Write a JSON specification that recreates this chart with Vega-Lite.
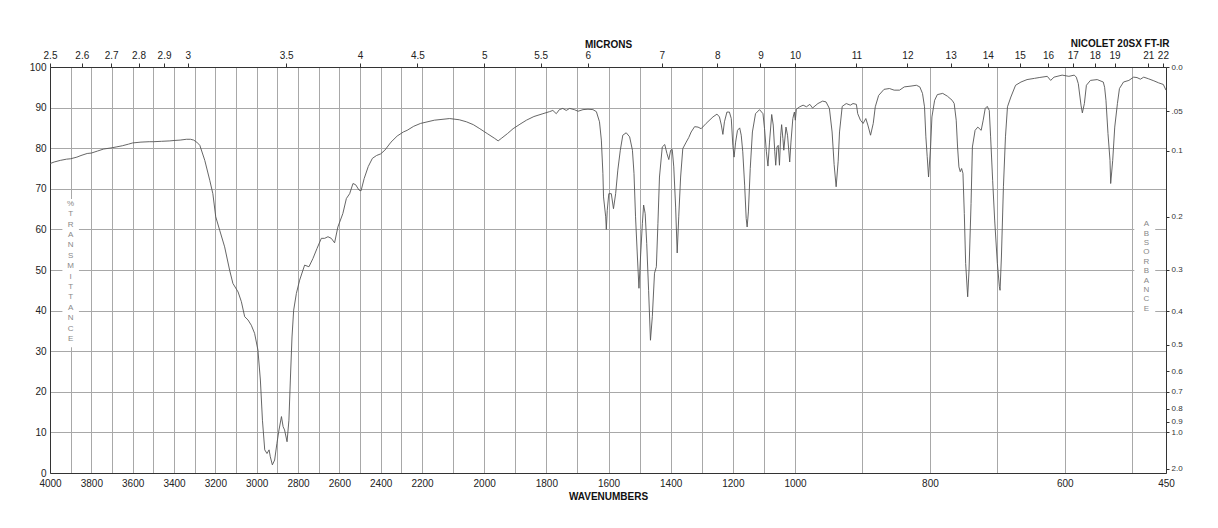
{
  "$schema": "https://vega.github.io/schema/vega-lite/v6.json",
  "width": 1116,
  "height": 406,
  "autosize": {"type": "none"},
  "padding": {"left": 50, "top": 67, "right": 52, "bottom": 55},
  "background": "white",
  "config": {
    "view": {"stroke": null},
    "font": "Liberation Sans",
    "axis": {"labelFont": "Liberation Sans", "labelFontSize": 10, "labelColor": "#222", "domainColor": "#333", "tickColor": "#333", "gridColor": "#a8a8a8", "gridWidth": 1, "titleFont": "Liberation Sans", "titleColor": "#111"}
  },
  "data": {"values": [
    {"wn": 4000, "T": 76.2}, {"wn": 3980, "T": 76.6}, {"wn": 3950, "T": 77.0}, {"wn": 3920, "T": 77.3}, {"wn": 3900, "T": 77.4},
    {"wn": 3870, "T": 77.8}, {"wn": 3850, "T": 78.2}, {"wn": 3820, "T": 78.7}, {"wn": 3800, "T": 78.8}, {"wn": 3770, "T": 79.3},
    {"wn": 3740, "T": 79.8}, {"wn": 3700, "T": 80.1}, {"wn": 3680, "T": 80.3}, {"wn": 3650, "T": 80.6}, {"wn": 3620, "T": 81.0},
    {"wn": 3600, "T": 81.3}, {"wn": 3560, "T": 81.5}, {"wn": 3520, "T": 81.6}, {"wn": 3500, "T": 81.6}, {"wn": 3460, "T": 81.7},
    {"wn": 3420, "T": 81.8}, {"wn": 3400, "T": 81.9}, {"wn": 3370, "T": 82.0}, {"wn": 3340, "T": 82.2}, {"wn": 3320, "T": 82.2},
    {"wn": 3305, "T": 82.0}, {"wn": 3290, "T": 81.5}, {"wn": 3275, "T": 80.7}, {"wn": 3251, "T": 77.0}, {"wn": 3227, "T": 72.1},
    {"wn": 3212, "T": 68.8}, {"wn": 3198, "T": 63.1}, {"wn": 3179, "T": 59.8}, {"wn": 3155, "T": 55.7}, {"wn": 3131, "T": 50.0},
    {"wn": 3115, "T": 46.7}, {"wn": 3090, "T": 44.6}, {"wn": 3074, "T": 42.2}, {"wn": 3058, "T": 38.5}, {"wn": 3042, "T": 37.7},
    {"wn": 3026, "T": 36.4}, {"wn": 3010, "T": 34.4}, {"wn": 2994, "T": 30.3}, {"wn": 2982, "T": 22.9}, {"wn": 2972, "T": 13.0},
    {"wn": 2961, "T": 5.7}, {"wn": 2950, "T": 4.8}, {"wn": 2940, "T": 5.7}, {"wn": 2934, "T": 4.0}, {"wn": 2924, "T": 2.0},
    {"wn": 2913, "T": 3.2}, {"wn": 2902, "T": 7.3}, {"wn": 2892, "T": 10.6}, {"wn": 2880, "T": 13.9}, {"wn": 2872, "T": 11.4},
    {"wn": 2865, "T": 10.6}, {"wn": 2853, "T": 7.7}, {"wn": 2844, "T": 13.0}, {"wn": 2837, "T": 22.9}, {"wn": 2829, "T": 33.5},
    {"wn": 2821, "T": 40.1}, {"wn": 2808, "T": 44.2}, {"wn": 2792, "T": 47.5}, {"wn": 2768, "T": 51.2}, {"wn": 2747, "T": 50.8},
    {"wn": 2728, "T": 52.8}, {"wn": 2708, "T": 55.3}, {"wn": 2687, "T": 57.8}, {"wn": 2671, "T": 57.8}, {"wn": 2655, "T": 58.2},
    {"wn": 2639, "T": 57.8}, {"wn": 2623, "T": 56.7}, {"wn": 2607, "T": 60.6}, {"wn": 2583, "T": 63.9}, {"wn": 2566, "T": 67.6},
    {"wn": 2550, "T": 68.8}, {"wn": 2534, "T": 71.3}, {"wn": 2521, "T": 71.0}, {"wn": 2505, "T": 69.7}, {"wn": 2495, "T": 69.5},
    {"wn": 2480, "T": 72.5}, {"wn": 2460, "T": 75.5}, {"wn": 2440, "T": 77.5}, {"wn": 2420, "T": 78.2}, {"wn": 2400, "T": 78.6},
    {"wn": 2380, "T": 79.5}, {"wn": 2350, "T": 81.5}, {"wn": 2320, "T": 83.0}, {"wn": 2290, "T": 84.0}, {"wn": 2272, "T": 84.4},
    {"wn": 2240, "T": 85.4}, {"wn": 2207, "T": 86.1}, {"wn": 2160, "T": 86.9}, {"wn": 2111, "T": 87.3}, {"wn": 2080, "T": 87.0},
    {"wn": 2057, "T": 86.5}, {"wn": 2035, "T": 85.8}, {"wn": 2014, "T": 84.8}, {"wn": 1990, "T": 83.6}, {"wn": 1966, "T": 82.4},
    {"wn": 1955, "T": 81.8}, {"wn": 1945, "T": 82.4}, {"wn": 1925, "T": 83.6}, {"wn": 1907, "T": 84.8}, {"wn": 1885, "T": 85.9},
    {"wn": 1864, "T": 86.9}, {"wn": 1840, "T": 87.8}, {"wn": 1811, "T": 88.5}, {"wn": 1790, "T": 89.0}, {"wn": 1779, "T": 89.3},
    {"wn": 1768, "T": 88.5}, {"wn": 1758, "T": 89.5}, {"wn": 1747, "T": 89.8}, {"wn": 1736, "T": 89.3}, {"wn": 1725, "T": 89.8},
    {"wn": 1710, "T": 89.5}, {"wn": 1698, "T": 89.1}, {"wn": 1682, "T": 89.5}, {"wn": 1666, "T": 89.6}, {"wn": 1650, "T": 89.5},
    {"wn": 1639, "T": 89.0}, {"wn": 1629, "T": 86.5}, {"wn": 1623, "T": 82.0}, {"wn": 1618, "T": 73.8}, {"wn": 1616, "T": 68.0},
    {"wn": 1609, "T": 63.1}, {"wn": 1607, "T": 60.0}, {"wn": 1604, "T": 64.7}, {"wn": 1599, "T": 68.8}, {"wn": 1591, "T": 68.8},
    {"wn": 1584, "T": 65.1}, {"wn": 1577, "T": 68.8}, {"wn": 1570, "T": 74.6}, {"wn": 1562, "T": 79.5}, {"wn": 1554, "T": 83.2},
    {"wn": 1543, "T": 83.8}, {"wn": 1532, "T": 82.8}, {"wn": 1523, "T": 79.5}, {"wn": 1518, "T": 73.8}, {"wn": 1513, "T": 63.1},
    {"wn": 1507, "T": 53.2}, {"wn": 1502, "T": 45.5}, {"wn": 1497, "T": 53.2}, {"wn": 1491, "T": 61.5}, {"wn": 1487, "T": 66.0},
    {"wn": 1482, "T": 63.9}, {"wn": 1477, "T": 56.5}, {"wn": 1471, "T": 45.0}, {"wn": 1465, "T": 32.7}, {"wn": 1459, "T": 38.5},
    {"wn": 1452, "T": 49.2}, {"wn": 1446, "T": 50.8}, {"wn": 1441, "T": 61.5}, {"wn": 1436, "T": 72.9}, {"wn": 1427, "T": 80.3},
    {"wn": 1419, "T": 80.9}, {"wn": 1412, "T": 78.7}, {"wn": 1406, "T": 77.2}, {"wn": 1400, "T": 79.5}, {"wn": 1395, "T": 79.7},
    {"wn": 1390, "T": 75.4}, {"wn": 1384, "T": 65.5}, {"wn": 1379, "T": 54.2}, {"wn": 1374, "T": 63.1}, {"wn": 1368, "T": 72.9},
    {"wn": 1361, "T": 79.9}, {"wn": 1350, "T": 81.5}, {"wn": 1342, "T": 82.6}, {"wn": 1334, "T": 84.0}, {"wn": 1323, "T": 85.3},
    {"wn": 1312, "T": 85.2}, {"wn": 1302, "T": 84.8}, {"wn": 1286, "T": 86.1}, {"wn": 1264, "T": 87.7}, {"wn": 1251, "T": 88.4},
    {"wn": 1243, "T": 87.7}, {"wn": 1237, "T": 85.7}, {"wn": 1232, "T": 83.4}, {"wn": 1227, "T": 86.5}, {"wn": 1219, "T": 88.9},
    {"wn": 1211, "T": 88.9}, {"wn": 1205, "T": 87.3}, {"wn": 1200, "T": 80.7}, {"wn": 1196, "T": 77.8}, {"wn": 1191, "T": 81.5},
    {"wn": 1185, "T": 84.4}, {"wn": 1178, "T": 85.0}, {"wn": 1173, "T": 83.2}, {"wn": 1168, "T": 79.1}, {"wn": 1162, "T": 70.9},
    {"wn": 1157, "T": 62.7}, {"wn": 1154, "T": 60.6}, {"wn": 1150, "T": 64.3}, {"wn": 1144, "T": 75.0}, {"wn": 1137, "T": 84.0},
    {"wn": 1127, "T": 88.5}, {"wn": 1114, "T": 89.5}, {"wn": 1103, "T": 88.5}, {"wn": 1098, "T": 84.8}, {"wn": 1092, "T": 79.1},
    {"wn": 1087, "T": 75.6}, {"wn": 1082, "T": 81.5}, {"wn": 1075, "T": 88.3}, {"wn": 1070, "T": 85.7}, {"wn": 1065, "T": 79.1},
    {"wn": 1062, "T": 75.8}, {"wn": 1058, "T": 80.3}, {"wn": 1054, "T": 80.7}, {"wn": 1050, "T": 75.8}, {"wn": 1046, "T": 83.2},
    {"wn": 1043, "T": 85.8}, {"wn": 1039, "T": 82.4}, {"wn": 1036, "T": 79.5}, {"wn": 1029, "T": 85.2}, {"wn": 1024, "T": 83.2},
    {"wn": 1017, "T": 76.6}, {"wn": 1013, "T": 81.5}, {"wn": 1007, "T": 87.3}, {"wn": 1002, "T": 88.9}, {"wn": 999.5, "T": 86.9},
    {"wn": 998, "T": 89.6}, {"wn": 993, "T": 90.2}, {"wn": 988, "T": 90.6}, {"wn": 983, "T": 90.2}, {"wn": 978, "T": 90.8},
    {"wn": 974, "T": 89.9}, {"wn": 966, "T": 91.0}, {"wn": 959, "T": 91.6}, {"wn": 954, "T": 91.4}, {"wn": 949, "T": 89.8},
    {"wn": 945, "T": 84.0}, {"wn": 942, "T": 76.0}, {"wn": 939, "T": 70.5}, {"wn": 936, "T": 76.8}, {"wn": 934, "T": 84.0},
    {"wn": 930, "T": 90.3}, {"wn": 924, "T": 91.0}, {"wn": 918, "T": 90.6}, {"wn": 914, "T": 91.0}, {"wn": 909, "T": 90.8},
    {"wn": 907, "T": 88.5}, {"wn": 903, "T": 86.9}, {"wn": 899, "T": 86.1}, {"wn": 895, "T": 87.3}, {"wn": 892, "T": 85.7},
    {"wn": 888, "T": 83.2}, {"wn": 884, "T": 86.1}, {"wn": 881, "T": 90.2}, {"wn": 876, "T": 93.0}, {"wn": 868, "T": 94.5},
    {"wn": 860, "T": 94.7}, {"wn": 853, "T": 94.3}, {"wn": 845, "T": 94.3}, {"wn": 838, "T": 95.1}, {"wn": 828, "T": 95.3},
    {"wn": 820, "T": 95.5}, {"wn": 815, "T": 95.1}, {"wn": 811, "T": 93.5}, {"wn": 808, "T": 90.2}, {"wn": 806, "T": 82.8},
    {"wn": 804, "T": 77.9}, {"wn": 802, "T": 72.9}, {"wn": 799, "T": 80.3}, {"wn": 797, "T": 87.7}, {"wn": 793, "T": 91.8},
    {"wn": 789, "T": 93.2}, {"wn": 781, "T": 93.5}, {"wn": 774, "T": 92.8}, {"wn": 767, "T": 91.8}, {"wn": 764, "T": 91.0},
    {"wn": 761, "T": 86.9}, {"wn": 759, "T": 80.3}, {"wn": 757, "T": 75.4}, {"wn": 755, "T": 74.2}, {"wn": 753, "T": 75.0},
    {"wn": 751, "T": 73.8}, {"wn": 749, "T": 63.9}, {"wn": 747, "T": 51.6}, {"wn": 744, "T": 43.4}, {"wn": 742, "T": 50.0},
    {"wn": 739, "T": 66.4}, {"wn": 737, "T": 80.3}, {"wn": 733, "T": 84.4}, {"wn": 729, "T": 85.2}, {"wn": 724, "T": 84.4},
    {"wn": 721, "T": 86.9}, {"wn": 718, "T": 89.8}, {"wn": 715, "T": 90.3}, {"wn": 712, "T": 89.3}, {"wn": 710, "T": 82.8},
    {"wn": 707, "T": 72.1}, {"wn": 704, "T": 62.3}, {"wn": 700, "T": 51.6}, {"wn": 697, "T": 45.9}, {"wn": 696, "T": 45.0},
    {"wn": 694, "T": 53.2}, {"wn": 691, "T": 70.5}, {"wn": 688, "T": 82.8}, {"wn": 685, "T": 90.2}, {"wn": 680, "T": 92.6},
    {"wn": 673, "T": 95.5}, {"wn": 665, "T": 96.3}, {"wn": 656, "T": 96.9}, {"wn": 645, "T": 97.2}, {"wn": 638, "T": 97.4},
    {"wn": 626, "T": 97.7}, {"wn": 621, "T": 96.7}, {"wn": 616, "T": 97.5}, {"wn": 604, "T": 98.0}, {"wn": 594, "T": 97.7},
    {"wn": 586, "T": 98.0}, {"wn": 583, "T": 97.5}, {"wn": 580, "T": 95.9}, {"wn": 576, "T": 90.6}, {"wn": 574, "T": 88.7},
    {"wn": 571, "T": 91.0}, {"wn": 568, "T": 95.5}, {"wn": 562, "T": 96.7}, {"wn": 552, "T": 96.9}, {"wn": 543, "T": 96.3},
    {"wn": 541, "T": 95.0}, {"wn": 539, "T": 91.8}, {"wn": 536, "T": 83.6}, {"wn": 533, "T": 77.0}, {"wn": 532, "T": 71.3},
    {"wn": 529, "T": 77.0}, {"wn": 526, "T": 85.2}, {"wn": 522, "T": 91.0}, {"wn": 519, "T": 94.7}, {"wn": 513, "T": 96.3},
    {"wn": 505, "T": 96.7}, {"wn": 498, "T": 97.5}, {"wn": 493, "T": 97.4}, {"wn": 488, "T": 97.0}, {"wn": 483, "T": 97.5},
    {"wn": 476, "T": 97.1}, {"wn": 468, "T": 96.6}, {"wn": 461, "T": 96.1}, {"wn": 454, "T": 95.7}, {"wn": 450, "T": 94.3}
  ]},
  "layer": [
    {
      "mark": {"type": "line", "color": "#555555", "strokeWidth": 0.9},
      "encoding": {
        "x": {
          "field": "wn", "type": "quantitative",
          "scale": {"domain": [4000, 2200, 1000, 450], "range": [0, 372, 745, 1116], "nice": false, "zero": false},
          "axis": {
            "orient": "bottom",
            "values": [4000, 3900, 3800, 3700, 3600, 3500, 3400, 3300, 3200, 3100, 3000, 2900, 2800, 2700, 2600, 2500, 2400, 2300, 2200, 2100, 2000, 1900, 1800, 1700, 1600, 1500, 1400, 1300, 1200, 1100, 1000, 900, 800, 700, 600, 500, 450],
            "labelExpr": "(datum.value % 200 == 0 || datum.value == 450) ? ('' + datum.value) : ''",
            "grid": true, "ticks": false, "labelPadding": 5, "labelFlush": false, "labelOverlap": false,
            "title": "WAVENUMBERS", "titleFontWeight": "bold", "titleFontSize": 10, "titlePadding": 3
          }
        },
        "y": {
          "field": "T", "type": "quantitative",
          "scale": {"domain": [0, 100], "nice": false, "zero": false},
          "axis": {
            "orient": "left", "values": [0, 10, 20, 30, 40, 50, 60, 70, 80, 90, 100],
            "grid": true, "ticks": false, "labelPadding": 4, "title": null, "labelOverlap": false, "labelFlush": false
          }
        }
      }
    },
    {
      "mark": {"type": "line", "opacity": 0},
      "encoding": {
        "x": {
          "field": "wn", "type": "quantitative",
          "axis": {
            "orient": "top",
            "values": [4000, 3846.1538, 3703.7037, 3571.4286, 3448.2759, 3333.3333, 2857.1429, 2500, 2222.2222, 2000, 1818.1818, 1666.6667, 1428.5714, 1250, 1111.1111, 1000, 909.0909, 833.3333, 769.2308, 714.2857, 666.6667, 625, 588.2353, 555.5556, 526.3158, 476.1905, 454.5455],
            "labelExpr": "'' + (round(100000 / datum.value) / 10)",
            "grid": false, "ticks": true, "tickSize": 4, "labelPadding": 3, "labelFlush": false, "labelOverlap": false,
            "title": "MICRONS", "titleFontWeight": "bold", "titleFontSize": 10, "titlePadding": 1
          }
        },
        "y": {
          "field": "T", "type": "quantitative",
          "axis": {
            "orient": "right",
            "values": [100, 89.125, 79.433, 63.096, 50.119, 39.811, 31.623, 25.119, 19.953, 15.849, 12.589, 10, 1],
            "labelExpr": "(datum.value > 85 && datum.value < 95) ? '.05' : format(abs(log(datum.value / 100) / LN10), '.1f')",
            "grid": false, "ticks": true, "tickSize": 3, "labelPadding": 2, "labelFontSize": 8, "labelColor": "#333",
            "title": null, "labelOverlap": false, "labelFlush": false
          }
        }
      }
    },
    {
      "data": {"values": [{}]},
      "mark": {"type": "rect", "color": "white"},
      "encoding": {
        "x": {"datum": 3940, "type": "quantitative", "axis": null},
        "x2": {"datum": 3860},
        "y": {"datum": 31, "type": "quantitative", "axis": null},
        "y2": {"datum": 67.5}
      }
    },
    {
      "data": {"values": [{}]},
      "mark": {"type": "rect", "color": "white"},
      "encoding": {
        "x": {"datum": 497, "type": "quantitative", "axis": null},
        "x2": {"datum": 466},
        "y": {"datum": 38.5, "type": "quantitative", "axis": null},
        "y2": {"datum": 63.5}
      }
    },
    {
      "data": {"values": [{}]},
      "mark": {"type": "text", "text": ["%", "T", "R", "A", "N", "S", "M", "I", "T", "T", "A", "N", "C", "E"], "lineHeight": 10.4, "fontSize": 8, "color": "#888888", "align": "center", "baseline": "middle", "font": "Liberation Sans"},
      "encoding": {
        "x": {"datum": 3900, "type": "quantitative", "axis": null},
        "y": {"datum": 66.3, "type": "quantitative", "axis": null}
      }
    },
    {
      "data": {"values": [{}]},
      "mark": {"type": "text", "text": ["A", "B", "S", "O", "R", "B", "A", "N", "C", "E"], "lineHeight": 9.4, "fontSize": 8, "color": "#888888", "align": "center", "baseline": "middle", "font": "Liberation Sans"},
      "encoding": {
        "x": {"datum": 479, "type": "quantitative", "axis": null},
        "y": {"datum": 61.3, "type": "quantitative", "axis": null}
      }
    },
    {
      "data": {"values": [{}]},
      "mark": {"type": "text", "text": "NICOLET 20SX FT-IR", "fontSize": 10, "fontWeight": "bold", "color": "#111111", "align": "center", "baseline": "middle", "font": "Liberation Sans"},
      "encoding": {
        "x": {"datum": 518, "type": "quantitative", "axis": null},
        "y": {"datum": 105.6, "type": "quantitative", "axis": null}
      }
    }
  ],
  "resolve": {"axis": {"x": "independent", "y": "independent"}}
}
